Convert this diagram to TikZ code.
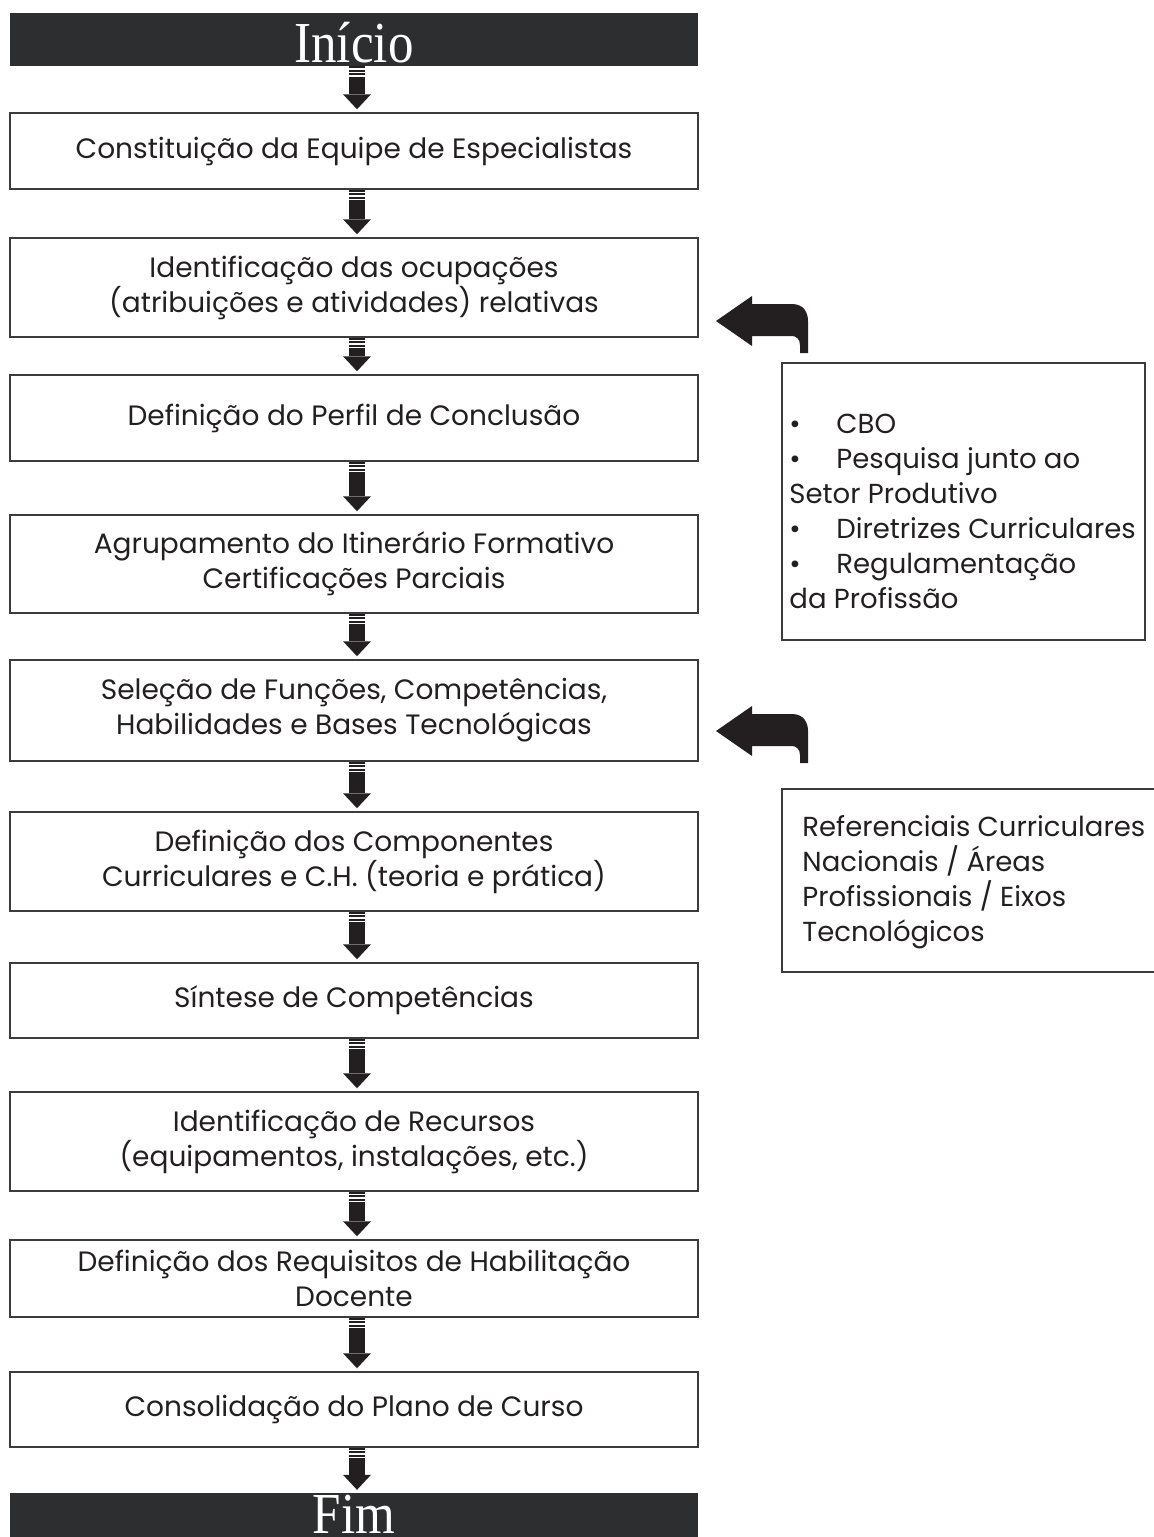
\documentclass[tikz,border=0pt]{standalone}
\usepackage{fontspec}
\setmainfont{Poppins}
\newfontfamily\barfont[FakeStretch=0.88]{Liberation Serif}

\definecolor{bardark}{HTML}{2D2E30}
\definecolor{inkdark}{HTML}{231F20}
\definecolor{edgegray}{HTML}{3C3C3C}

\tikzset{
  stage/.style={draw=edgegray, line width=1.5pt, minimum width=688pt, align=center,
    inner sep=0pt, text=inkdark, font=\fontsize{28}{35}\selectfont},
  endbar/.style={fill=bardark, minimum width=688pt, inner sep=0pt},
  bartext/.style={inner sep=0pt, text=white, font=\barfont\fontsize{58}{58}\selectfont},
  srcbox/.style={draw=edgegray, line width=1.5pt, inner sep=0pt},
  srctext/.style={align=left, inner sep=0pt, text=inkdark, font=\fontsize{27.5}{35}\selectfont},
  bentarrow/.pic={
    \fill[inkdark] (0,0) -- (36,-25) -- (36,-17) -- (76,-17)
      .. controls (88,-17) and (92,-8) .. (92,0) -- (92,32) -- (84,32) -- (84,24)
      .. controls (84,18) and (80,15) .. (76,15) -- (36,15) -- (36,25) -- cycle;
  }
}

\begin{document}
\begin{tikzpicture}[x=1pt,y=-1pt]
  \useasboundingbox (0,0) rectangle (1154,1537);

  % main flow
  \node[endbar, minimum height=53pt] (ini) at (354,39.5) {};
  \node[bartext, anchor=base] (initxt) at ([yshift=4pt]ini.south) {Início};
  \node[stage, minimum height=76pt] (b1) at (354,151) {Constituição da Equipe de Especialistas};
  \node[stage, minimum height=99pt] (b2) at (354,287.5) {Identificação das ocupações\\(atribuições e atividades) relativas};
  \node[stage, minimum height=86pt] (b3) at (354,418) {Definição do Perfil de Conclusão};
  \node[stage, minimum height=98pt] (b4) at (354,564) {Agrupamento do Itinerário Formativo\\Certificações Parciais};
  \node[stage, minimum height=101pt] (b5) at (354,710.5) {Seleção de Funções, Competências,\\Habilidades e Bases Tecnológicas};
  \node[stage, minimum height=99pt] (b6) at (354,861.5) {Definição dos Componentes\\Curriculares e C.H. (teoria e prática)};
  \node[stage, minimum height=75pt] (b7) at (354,1000.5) {Síntese de Competências};
  \node[stage, minimum height=99pt] (b8) at (354,1141.5) {Identificação de Recursos\\(equipamentos, instalações, etc.)};
  \node[stage, minimum height=77pt] (b9) at (354,1278.5) {Definição dos Requisitos de Habilitação\\Docente};
  \node[stage, minimum height=75pt] (b10) at (354,1409.5) {Consolidação do Plano de Curso};
  \node[endbar, minimum height=44pt] (fim) at (354,1515) {};
  \node[bartext, anchor=base] (fimtxt) at ([yshift=4pt]fim.south) {Fim};

  % striped arrows
  \foreach \from/\to in {ini/b1,b1/b2,b2/b3,b3/b4,b4/b5,b5/b6,b6/b7,b7/b8,b8/b9,b9/b10,b10/fim}{
    \foreach \k in {0,3.5,7}
      \fill[inkdark] ([xshift=-5pt,yshift=-\k pt]\from.south) rectangle ++(16,2);
    \fill[inkdark] ([xshift=-5pt,yshift=-10.5pt]\from.south) rectangle ([xshift=11pt,yshift=18pt]\to.north);
    \fill[inkdark] ([xshift=3pt,yshift=3pt]\to.north) -- ++(-14,-15) -- ++(28,0) -- cycle;
  }

  % sources
  \node[srcbox, minimum width=363pt, minimum height=277pt] (src1) at (963.5,501.5) {};
  \node[srctext, anchor=north west] (src1txt) at ([xshift=8pt,yshift=-52pt]src1.north west)
    {\makebox[47pt][l]{•}CBO\\
     \makebox[47pt][l]{•}Pesquisa junto ao\\
     Setor Produtivo\\
     \makebox[47pt][l]{•}Diretrizes Curriculares\\
     \makebox[47pt][l]{•}Regulamentação\\
     da Profissão};
  \node[srcbox, minimum width=390pt, minimum height=183pt] (src2) at (977,880.5) {};
  \node[srctext, anchor=west] (src2txt) at ([xshift=21pt,yshift=-2pt]src2.west)
    {Referenciais Curriculares\\Nacionais / Áreas\\Profissionais / Eixos\\Tecnológicos};

  \pic at (716,321) {bentarrow};
  \pic at (716,731) {bentarrow};
\end{tikzpicture}
\end{document}
